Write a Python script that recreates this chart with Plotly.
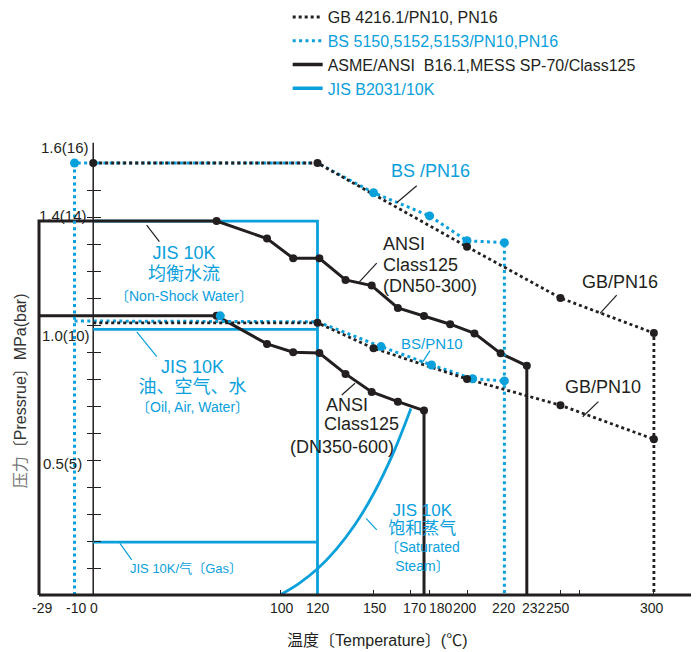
import plotly.graph_objects as go

# ---------------- data (temperature °C, pressure MPa) ----------------
x_tick_vals = [-29, -10, 0, 100, 120, 150, 170, 180, 200, 220, 232, 250, 300]
x_tick_text = ["-29", "-10", "0", "100", "120", "150", "170", "180", "200", "220", "232", "250", "300"]
x_minor_ticks = [100, 150, 170, 180, 200, 250, 260, 300]
y_tick_vals = [1.6, 1.4, 1.0, 0.5]
y_tick_text = ["1.6(16)", "1.4(14)", "1.0(10)", "0.5(5)"]
y_minor_ticks = [0.1, 0.2, 0.3, 0.4, 0.5, 0.6, 0.7, 0.8, 0.9, 1.0, 1.1, 1.2, 1.3, 1.4, 1.5]

# GB 4216.1 (black dotted)
gb_pn16_t = [0, 120, 200, 250, 300, 300]
gb_pn16_p = [1.60, 1.60, 1.29, 1.10, 0.97, 0.0]
gb_pn16_dot = [1, 1, 1, 1, 1, 0]
gb_pn10_t = [0, 120, 150, 200, 250, 300]
gb_pn10_p = [1.008, 1.008, 0.914, 0.80, 0.703, 0.577]
gb_pn10_dot = [0, 1, 1, 1, 1, 1]

# BS 5150/5152/5153 (blue dotted)
bs_pn16_t = [-10, -10, 120, 150, 180, 200, 220, 220]
bs_pn16_p = [0.0, 1.60, 1.60, 1.49, 1.404, 1.312, 1.305, 0.0]
bs_pn16_dot = [0, 1, 0, 1, 1, 1, 1, 0]
bs_pn10_t = [-10, 120, 154, 181, 203, 220]
bs_pn10_p = [1.015, 1.012, 0.92, 0.852, 0.801, 0.793]
bs_pn10_dot = [0, 0, 1, 1, 1, 1]
bs_pn10_extra_t = [68]
bs_pn10_extra_p = [1.034]

# ASME/ANSI B16.1 Class125 (black solid)
ansi_a_t = [-29, -29, 66, 93, 107, 121, 135, 149, 163, 177, 191, 204, 218, 232, 232]
ansi_a_p = [0.0, 1.385, 1.385, 1.32, 1.247, 1.247, 1.167, 1.146, 1.063, 1.033, 1.003, 0.969, 0.895, 0.849, 0.0]
ansi_a_dot = [0, 0, 1, 1, 1, 1, 1, 1, 1, 1, 1, 1, 1, 1, 0]
ansi_b_t = [-29, 66, 93, 107, 121, 135, 149, 163, 177, 177]
ansi_b_p = [1.034, 1.034, 0.93, 0.899, 0.896, 0.819, 0.752, 0.716, 0.683, 0.0]
ansi_b_dot = [0, 1, 1, 1, 1, 1, 1, 1, 1, 0]

# JIS B2031 10K (blue solid)
jis_water_t = [0, 120, 120]
jis_water_p = [1.385, 1.385, 0.0]
jis_oil_t = [0, 120]
jis_oil_p = [0.984, 0.984]
jis_gas_t = [0, 120]
jis_gas_p = [0.196, 0.196]
jis_steam_t = [100, 110, 120, 130, 140, 150, 160, 170]
jis_steam_p = [0.0, 0.042, 0.097, 0.169, 0.26, 0.375, 0.517, 0.691]

# ---------------- styles ----------------
BLACK = "#231f20"
BLUE = "#0aa0dc"
FONT = "Liberation Sans, Arial, Noto Sans CJK SC, sans-serif"
BLK_DOT = "3px,3px"
BLU_DOT = "3px,3.4px"

fig = go.Figure()


def line(x, y, color, width, dash=None, shape="linear"):
    fig.add_trace(go.Scatter(x=x, y=y, mode="lines",
                             line=dict(color=color, width=width, dash=dash, shape=shape),
                             showlegend=False, hoverinfo="skip"))


def dots(x, y, flags, color, size):
    xs = [a for a, f in zip(x, flags) if f]
    ys = [b for b, f in zip(y, flags) if f]
    fig.add_trace(go.Scatter(x=xs, y=ys, mode="markers",
                             marker=dict(color=color, size=size, line=dict(width=0)),
                             showlegend=False, hoverinfo="skip", cliponaxis=False))


# legend-only entries
fig.add_trace(go.Scatter(x=[None], y=[None], mode="lines", name="GB 4216.1/PN10, PN16",
                         line=dict(color=BLACK, width=3, dash=BLK_DOT)))
fig.add_trace(go.Scatter(x=[None], y=[None], mode="lines",
                         name="<span style='color:%s'>BS 5150,5152,5153/PN10,PN16</span>" % BLUE,
                         line=dict(color=BLUE, width=3, dash=BLU_DOT)))
fig.add_trace(go.Scatter(x=[None], y=[None], mode="lines",
                         name="ASME/ANSI\u00a0 B16.1,MESS SP-70/Class125",
                         line=dict(color=BLACK, width=3.5)))
fig.add_trace(go.Scatter(x=[None], y=[None], mode="lines",
                         name="<span style='color:%s'>JIS B2031/10K</span>" % BLUE,
                         line=dict(color=BLUE, width=3.5)))

# lines
line(jis_water_t, jis_water_p, BLUE, 2.8)
line(jis_oil_t, jis_oil_p, BLUE, 2.8)
line(jis_gas_t, jis_gas_p, BLUE, 2.8)
line(jis_steam_t, jis_steam_p, BLUE, 2.8, shape="spline")
line(ansi_a_t, ansi_a_p, BLACK, 3)
line(ansi_b_t, ansi_b_p, BLACK, 3)
line(bs_pn16_t, bs_pn16_p, BLUE, 3, BLU_DOT)
line(bs_pn10_t, bs_pn10_p, BLUE, 3, BLU_DOT)
line(gb_pn16_t, gb_pn16_p, BLACK, 2.8, BLK_DOT)
line(gb_pn10_t, gb_pn10_p, BLACK, 2.8, BLK_DOT)

# markers
dots(ansi_a_t, ansi_a_p, ansi_a_dot, BLACK, 8)
dots(ansi_b_t, ansi_b_p, ansi_b_dot, BLACK, 8)
dots(bs_pn16_t, bs_pn16_p, bs_pn16_dot, BLUE, 9)
dots(bs_pn10_t, bs_pn10_p, bs_pn10_dot, BLUE, 9)
dots(bs_pn10_extra_t, bs_pn10_extra_p, [1], BLUE, 9)
dots(gb_pn16_t, gb_pn16_p, gb_pn16_dot, BLACK, 8)
dots(gb_pn10_t, gb_pn10_p, gb_pn10_dot, BLACK, 8)

# dummy trace for the mirrored tick axis
fig.add_trace(go.Scatter(x=[None], y=[None], yaxis="y2", showlegend=False, hoverinfo="skip"))

X_RANGE = [-33.82, 321.99]
Y_RANGE = [0, 1.7593]
Y_AXIS_POS = (0 - X_RANGE[0]) / (X_RANGE[1] - X_RANGE[0])

shapes = [
    dict(type="line", xref="x", yref="paper", x0=-29, x1=320, y0=0, y1=0,
         line=dict(color=BLACK, width=3)),
    dict(type="line", xref="x", yref="y", x0=0, x1=0, y0=0, y1=1.675,
         line=dict(color=BLACK, width=1.5), layer="below"),
]
leaders = [
    (173.1, 1.516, 162.4, 1.453, BLACK),
    (151.7, 1.229, 142.4, 1.160, BLACK),
    (280.1, 1.111, 271.2, 1.043, BLACK),
    (270.3, 0.716, 261.9, 0.660, BLACK),
    (180.2, 0.905, 175.8, 0.858, BLUE),
    (140.1, 0.784, 133.0, 0.741, BLACK),
    (28.6, 1.370, 35.4, 1.309, BLACK),
    (23.3, 0.975, 34.0, 0.883, BLUE),
    (14.3, 0.191, 20.6, 0.130, BLUE),
    (151.7, 0.241, 146.0, 0.284, BLUE),
]
for x0, y0, x1, y1, c in leaders:
    shapes.append(dict(type="line", xref="x", yref="y", x0=x0, y0=y0, x1=x1, y1=y1,
                       line=dict(color=c, width=1.2)))


def big(t, s=18):
    return "<span style='font-size:%dpx'>%s</span>" % (s, t)


# text, x, y, colour, base size (sets line spacing), x anchor / align
labels = [
    ("BS /PN16", 180.2, 1.570, BLUE, 18, "center"),
    (big("ANSI") + "<br>" + big("Class125") + "<br>" + big("(DN50-300)"),
     154.0, 1.222, BLACK, 16, "left"),
    ("GB/PN16", 282.1, 1.160, BLACK, 18, "center"),
    ("GB/PN10", 272.8, 0.771, BLACK, 18, "center"),
    ("BS/PN10", 181.3, 0.932, BLUE, 15, "center"),
    ("ANSI", 135.8, 0.704, BLACK, 18, "center"),
    ("Class125", 143.7, 0.632, BLACK, 18, "center"),
    ("(DN350-600)", 133.1, 0.549, BLACK, 18, "center"),
    (big("JIS 10K") + "<br>" + big("均衡水流") + "<br>" + big("〔Non-Shock Water〕", 14),
     48.6, 1.192, BLUE, 16, "center"),
    (big("JIS 10K") + "<br>" + big("油、空气、水") + "<br>" + big("〔Oil, Air, Water〕", 14),
     53.1, 0.774, BLUE, 15, "center"),
    ("JIS 10K/气〔Gas〕", 49.7, 0.099, BLUE, 13, "center"),
    (big("JIS 10K", 17) + "<br>" + big("饱和蒸气", 17) + "<br>" + big("〔Saturated", 14) + "<br>" + big("Steam〕", 14),
     176.0, 0.212, BLUE, 14, "center"),
]
annotations = []
for t, x, y, c, s, xa in labels:
    annotations.append(dict(text=t, x=x, y=y, xref="x", yref="y", showarrow=False,
                            xanchor=xa, align=xa, yanchor="middle",
                            font=dict(color=c, size=s, family=FONT)))

# x tick labels (pixel nudges so that crowded labels sit side by side)
x_label_shift = [3, 1, 1, 2, 1, 1, 4, 11, -2, 0, 7, -2, -2]
for v, t, sh in zip(x_tick_vals, x_tick_text, x_label_shift):
    annotations.append(dict(text=t, x=v, y=-0.027, xref="x", yref="paper", xshift=sh,
                            showarrow=False, xanchor="center", yanchor="middle",
                            font=dict(color=BLACK, size=14, family=FONT)))

# y tick labels
y_label_pos = [(-15.1, 1.658), (-16.3, 1.407), (-14.6, 0.963), (-16.7, 0.488)]
for t, (x, y) in zip(y_tick_text, y_label_pos):
    annotations.append(dict(text=t, x=x, y=y, xref="x", yref="y", showarrow=False,
                            xanchor="center", yanchor="middle",
                            font=dict(color=BLACK, size=15, family=FONT)))

# axis titles
annotations.append(dict(text="温度〔Temperature〕(℃)", x=152.1, y=-0.096, xref="x", yref="paper",
                        showarrow=False, xanchor="center", yanchor="middle",
                        font=dict(color=BLACK, size=16, family=FONT)))
annotations.append(dict(text="<span style='color:#777777'>压力</span>〔Pressrue〕MPa(bar)",
                        x=-0.0143, y=0.43, xref="paper", yref="paper", textangle=-90,
                        showarrow=False, xanchor="center", yanchor="middle",
                        font=dict(color="#333333", size=16, family=FONT)))

tick_axis = dict(range=Y_RANGE, anchor="free", position=Y_AXIS_POS, showline=False,
                 showgrid=False, zeroline=False, ticks="outside", tickvals=y_minor_ticks,
                 ticklen=6.5, tickwidth=1.4, tickcolor=BLACK, showticklabels=False,
                 fixedrange=True)

fig.update_layout(
    width=691, height=644,
    margin=dict(l=22, r=4, t=112, b=57, autoexpand=False),
    paper_bgcolor="white", plot_bgcolor="white",
    font=dict(family=FONT, color=BLACK),
    xaxis=dict(range=X_RANGE, showgrid=False, zeroline=False, showline=False,
               ticks="inside", tickvals=x_minor_ticks, ticklen=5, tickwidth=1.2,
               tickcolor=BLACK, showticklabels=False, fixedrange=True),
    yaxis=dict(tick_axis, side="left"),
    yaxis2=dict(tick_axis, side="right", overlaying="y"),
    showlegend=True,
    legend=dict(x=0.3875, y=1.2526, xanchor="left", yanchor="top",
                font=dict(size=16, color=BLACK, family=FONT),
                bgcolor="rgba(0,0,0,0)", itemwidth=30, tracegroupgap=0,
                itemclick=False, itemdoubleclick=False),
    shapes=shapes,
    annotations=annotations,
)

fig.write_html("out.html")
